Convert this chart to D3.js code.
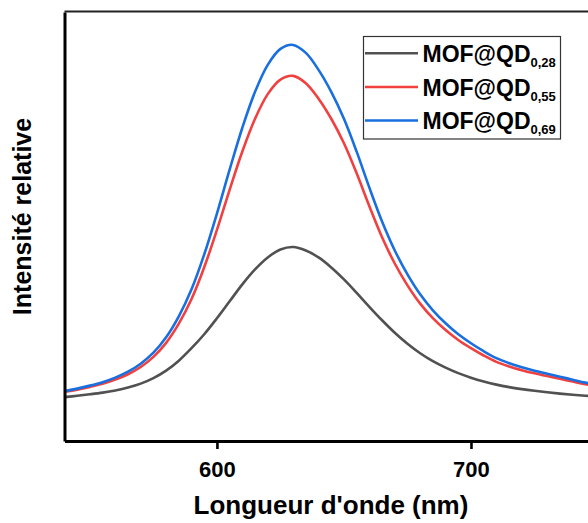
<!DOCTYPE html>
<html>
<head>
<meta charset="utf-8">
<script src="https://cdn.jsdelivr.net/npm/d3@7/dist/d3.min.js"></script>
<style>
  html, body { margin: 0; padding: 0; background: #fff; }
  svg { display: block; }
  text { font-family: Arial, "Liberation Sans", sans-serif; font-weight: bold; fill: #000; }
</style>
</head>
<body>
<svg id="chart" width="588" height="523"></svg>
<script>
// ---- data ----
const wavelengths = [540,545,550,555,560,565,570,575,580,585,590,595,600,605,610,615,620,625,630,635,640,645,650,655,660,665,670,675,680,685,690,695,700,705,710,715,720,725,730,735,740,745,750];
const seriesNames = ["MOF@QD", "MOF@QD", "MOF@QD"];
const seriesSubs = ["0,28", "0,55", "0,69"];
const mof028 = [44,45.3,46.8,48.5,50.7,53.6,57.5,63,70.5,80.5,93,107,123,140,157,172,184,192,194.5,191,184,174,162,148.5,134.5,121,108.5,97.5,88,80,73.5,68,63.5,59.7,56.5,54,52,50.3,48.8,47.5,46.4,45.4,44.6];
const mof055 = [49.1,51.4,54.2,57.3,61.5,66.9,74.2,84.3,98.4,117.6,142.3,174.2,211.6,251.8,290.2,323,347.7,362.3,366,358.6,343.1,323,298.4,268.3,235.4,204.3,177.9,156,137.7,123.1,111.2,101.2,93,85.7,79.3,74.7,71,67.8,65.1,62.4,59.6,56.9,54.6];
const mof069 = [50,52.5,55.5,59,63.5,69.5,77.5,88.5,104,125,152,187,228,272,314,350,377,393,397,389,372,350,323,290,254,220,191,167,147,131,118,107,98,90,83,78,74,70.5,67.5,64.5,61.5,58.5,56];
const xTicks = [600, 700];
const xLabel = "Longueur d'onde (nm)";
const yLabel = "Intensité relative";
const xDomain = [540, 750];
const yDomain = [0, 430];
const colors = ["#515151", "#F14040", "#1A6FDF"];

// ---- layout ----
const svg = d3.select("#chart");
const pL = 64.5, pR = 598, pT = 11.5, pB = 441;
const x = d3.scaleLinear().domain(xDomain).range([pL, pR]);
const y = d3.scaleLinear().domain(yDomain).range([pB, pT + 0.5]);

svg.append("defs").append("clipPath").attr("id", "clip")
  .append("rect").attr("x", pL).attr("y", pT).attr("width", pR - pL).attr("height", pB - pT);

const series = [mof028, mof055, mof069];
const line = d3.line()
  .x((d, i) => x(wavelengths[i]))
  .y(d => y(d))
  .curve(d3.curveCatmullRom.alpha(0.5));

const g = svg.append("g").attr("clip-path", "url(#clip)");
series.forEach((s, k) => {
  g.append("path")
    .datum(s)
    .attr("d", line)
    .attr("fill", "none")
    .attr("stroke", colors[k])
    .attr("stroke-width", 2.6)
    .attr("stroke-linejoin", "round");
});

// top spine
svg.append("line").attr("x1", pL).attr("x2", 588).attr("y1", pT).attr("y2", pT)
  .attr("stroke", "#222").attr("stroke-width", 1.8);

// left spine (axis without ticks)
const yAxis = d3.axisLeft(y).tickValues([]).tickSizeOuter(0);
svg.append("g").attr("transform", `translate(${pL},0)`).call(yAxis)
  .call(a => a.select(".domain").attr("stroke", "#000").attr("stroke-width", 3));

// bottom axis
const xAxis = d3.axisBottom(x).tickValues(xTicks).tickSize(8).tickSizeOuter(0).tickPadding(12).tickFormat(d3.format("d"));
const xa = svg.append("g").attr("transform", `translate(0,${pB})`).call(xAxis);
xa.select(".domain").attr("stroke", "#000").attr("stroke-width", 3);
xa.selectAll(".tick line").attr("stroke", "#000").attr("stroke-width", 2.6);
xa.selectAll(".tick text").attr("font-size", 22).attr("font-weight", "bold")
  .attr("font-family", 'Arial, "Liberation Sans", sans-serif').attr("fill", "#000");

// axis titles
svg.append("text").attr("x", 331).attr("y", 514).attr("text-anchor", "middle")
  .attr("font-size", 26).text(xLabel);
svg.append("text").attr("transform", "translate(31,216.5) rotate(-90)").attr("text-anchor", "middle")
  .attr("font-size", 25).text(yLabel);

// legend
const lg = svg.append("g");
lg.append("rect").attr("x", 363.5).attr("y", 36.5).attr("width", 197).attr("height", 102.5)
  .attr("fill", "#fff").attr("stroke", "#333").attr("stroke-width", 1.2);
const rowY = [53.3, 87, 120.5];
series.forEach((s, k) => {
  lg.append("line").attr("x1", 365).attr("x2", 418).attr("y1", rowY[k]).attr("y2", rowY[k])
    .attr("stroke", colors[k]).attr("stroke-width", 2.6);
  const t = lg.append("text").attr("x", 422.5).attr("y", rowY[k] + 8.5).attr("font-size", 23);
  t.append("tspan").text(seriesNames[k]);
  t.append("tspan").attr("font-size", 13).attr("dy", 5).text(seriesSubs[k]);
});
</script>
</body>
</html>
